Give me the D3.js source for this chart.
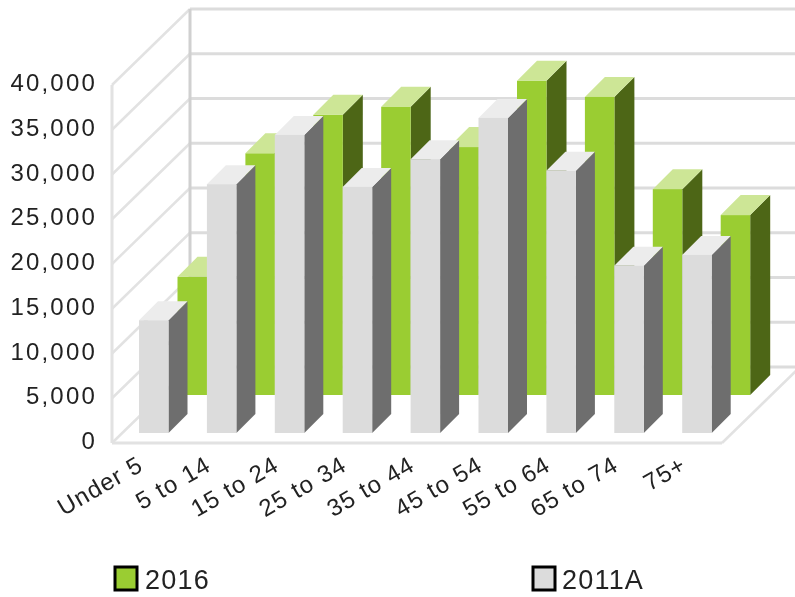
<!DOCTYPE html>
<html>
<head>
<meta charset="utf-8">
<script src="https://cdn.jsdelivr.net/npm/d3@7"></script>
<style>
  html, body { margin: 0; padding: 0; background: #fff; }
  svg { display: block; }
  text { font-family: "Liberation Sans", Arial, sans-serif; fill: #222; }
</style>
</head>
<body>
<div id="chart"></div>
<script>
const categories = ["Under 5", "5 to 14", "15 to 24", "25 to 34", "35 to 44", "45 to 54", "55 to 64", "65 to 74", "75+"];
const values2016 = [13200, 27000, 31300, 32200, 27700, 35100, 33300, 23000, 20100];
const values2011 = [12600, 27800, 33300, 27500, 30600, 35200, 29300, 18700, 19900];
const yTicks = [0, 5000, 10000, 15000, 20000, 25000, 30000, 35000, 40000];

const width = 795;
const height = 597;

// box layout
const frontLeft = 112;
const frontRight = 722;
const frontBase = 443;
const wallDx = 78;
const wallDy = -76;

const svg = d3.select("#chart").append("svg")
    .attr("width", width)
    .attr("height", height);

svg.append("defs").append("filter")
    .attr("id", "soft")
    .append("feGaussianBlur")
    .attr("stdDeviation", 0.6);

const root = svg.append("g").attr("filter", "url(#soft)");

const h = d3.scaleLinear().domain([0, 40000]).range([0, 358]);

const x = d3.scaleBand()
    .domain(categories)
    .range([139, 139 + 8 * 67.9 + 29.5])
    .paddingInner(0.5655)
    .paddingOuter(0);

// back wall and left wall
const grid = root.append("g");
yTicks.forEach(t => {
    const yFront = frontBase - h(t);
    const yBack = yFront + wallDy;
    grid.append("line")
        .attr("x1", frontLeft).attr("y1", yFront)
        .attr("x2", frontLeft + wallDx).attr("y2", yBack)
        .attr("stroke", "#e2e2e2").attr("stroke-width", 2.5);
    grid.append("line")
        .attr("x1", frontLeft + wallDx).attr("y1", yBack)
        .attr("x2", frontRight + wallDx).attr("y2", yBack)
        .attr("stroke", "#dcdcdc").attr("stroke-width", 3);
});
grid.append("line")
    .attr("x1", frontLeft).attr("y1", frontBase)
    .attr("x2", frontLeft).attr("y2", frontBase - h(40000))
    .attr("stroke", "#e2e2e2").attr("stroke-width", 3);
grid.append("line")
    .attr("x1", frontLeft + wallDx).attr("y1", frontBase + wallDy)
    .attr("x2", frontLeft + wallDx).attr("y2", frontBase + wallDy - h(40000))
    .attr("stroke", "#d0d0d0").attr("stroke-width", 3);
// floor
grid.append("line")
    .attr("x1", frontLeft).attr("y1", frontBase)
    .attr("x2", frontRight).attr("y2", frontBase)
    .attr("stroke", "#e2e2e2").attr("stroke-width", 3);
grid.append("line")
    .attr("x1", frontRight).attr("y1", frontBase)
    .attr("x2", frontRight + wallDx).attr("y2", frontBase + wallDy)
    .attr("stroke", "#e2e2e2").attr("stroke-width", 2.5);

function drawBars(values, xOffset, base, depth, colors) {
    const g = root.append("g");
    const w = x.bandwidth();
    categories.forEach((c, i) => {
        const x0 = x(c) + xOffset;
        const top = base - h(values[i]);
        // side
        g.append("path")
            .attr("d", `M${x0 + w},${base}L${x0 + w + depth},${base - depth}L${x0 + w + depth},${top - depth}L${x0 + w},${top}Z`)
            .attr("fill", colors.side);
        // top
        g.append("path")
            .attr("d", `M${x0},${top}L${x0 + depth},${top - depth}L${x0 + w + depth},${top - depth}L${x0 + w},${top}Z`)
            .attr("fill", colors.top);
        // front
        g.append("rect")
            .attr("x", x0)
            .attr("y", top)
            .attr("width", w)
            .attr("height", h(values[i]))
            .attr("fill", colors.front);
    });
}

drawBars(values2016, 38.5, 395, 20, { front: "#9acd32", top: "#cde696", side: "#4d6617" });
drawBars(values2011, 0, 433, 19, { front: "#dcdcdc", top: "#ececec", side: "#6e6e6e" });

// y axis labels
const yAxisScale = d3.scaleLinear().domain([0, 40000]).range([frontBase - 2, frontBase - 2 - h(40000)]);
const yAxis = root.append("g")
    .attr("transform", "translate(97,0)")
    .call(d3.axisLeft(yAxisScale).tickValues(yTicks).tickSize(0).tickPadding(0).tickFormat(d3.format(",")));
yAxis.select(".domain").remove();
yAxis.selectAll("text")
    .style("font-size", "24px")
    .style("letter-spacing", "2.2px")
    .attr("fill", "#222");

// category labels
const xAxis = root.append("g")
    .attr("transform", "translate(-15,459)")
    .call(d3.axisBottom(x).tickSize(0).tickPadding(0));
xAxis.select(".domain").remove();
xAxis.selectAll("text")
    .style("font-size", "24px")
    .style("letter-spacing", "1.2px")
    .attr("fill", "#222")
    .attr("text-anchor", "end")
    .attr("dy", "0.5em")
    .attr("transform", "rotate(-30)");

// legend
const legendItems = [
    { label: "2016", color: "#9acd32", x: 115, textX: 145 },
    { label: "2011A", color: "#dcdcdc", x: 533, textX: 562 }
];
const legend = root.append("g").selectAll("g").data(legendItems).enter().append("g");
legend.append("rect")
    .attr("x", d => d.x)
    .attr("y", 567)
    .attr("width", 22)
    .attr("height", 23)
    .attr("fill", d => d.color)
    .attr("stroke", "#000")
    .attr("stroke-width", 3);
legend.append("text")
    .attr("x", d => d.textX)
    .attr("y", 589)
    .style("font-size", "27px")
    .style("letter-spacing", "1.2px")
    .text(d => d.label);
</script>
</body>
</html>
